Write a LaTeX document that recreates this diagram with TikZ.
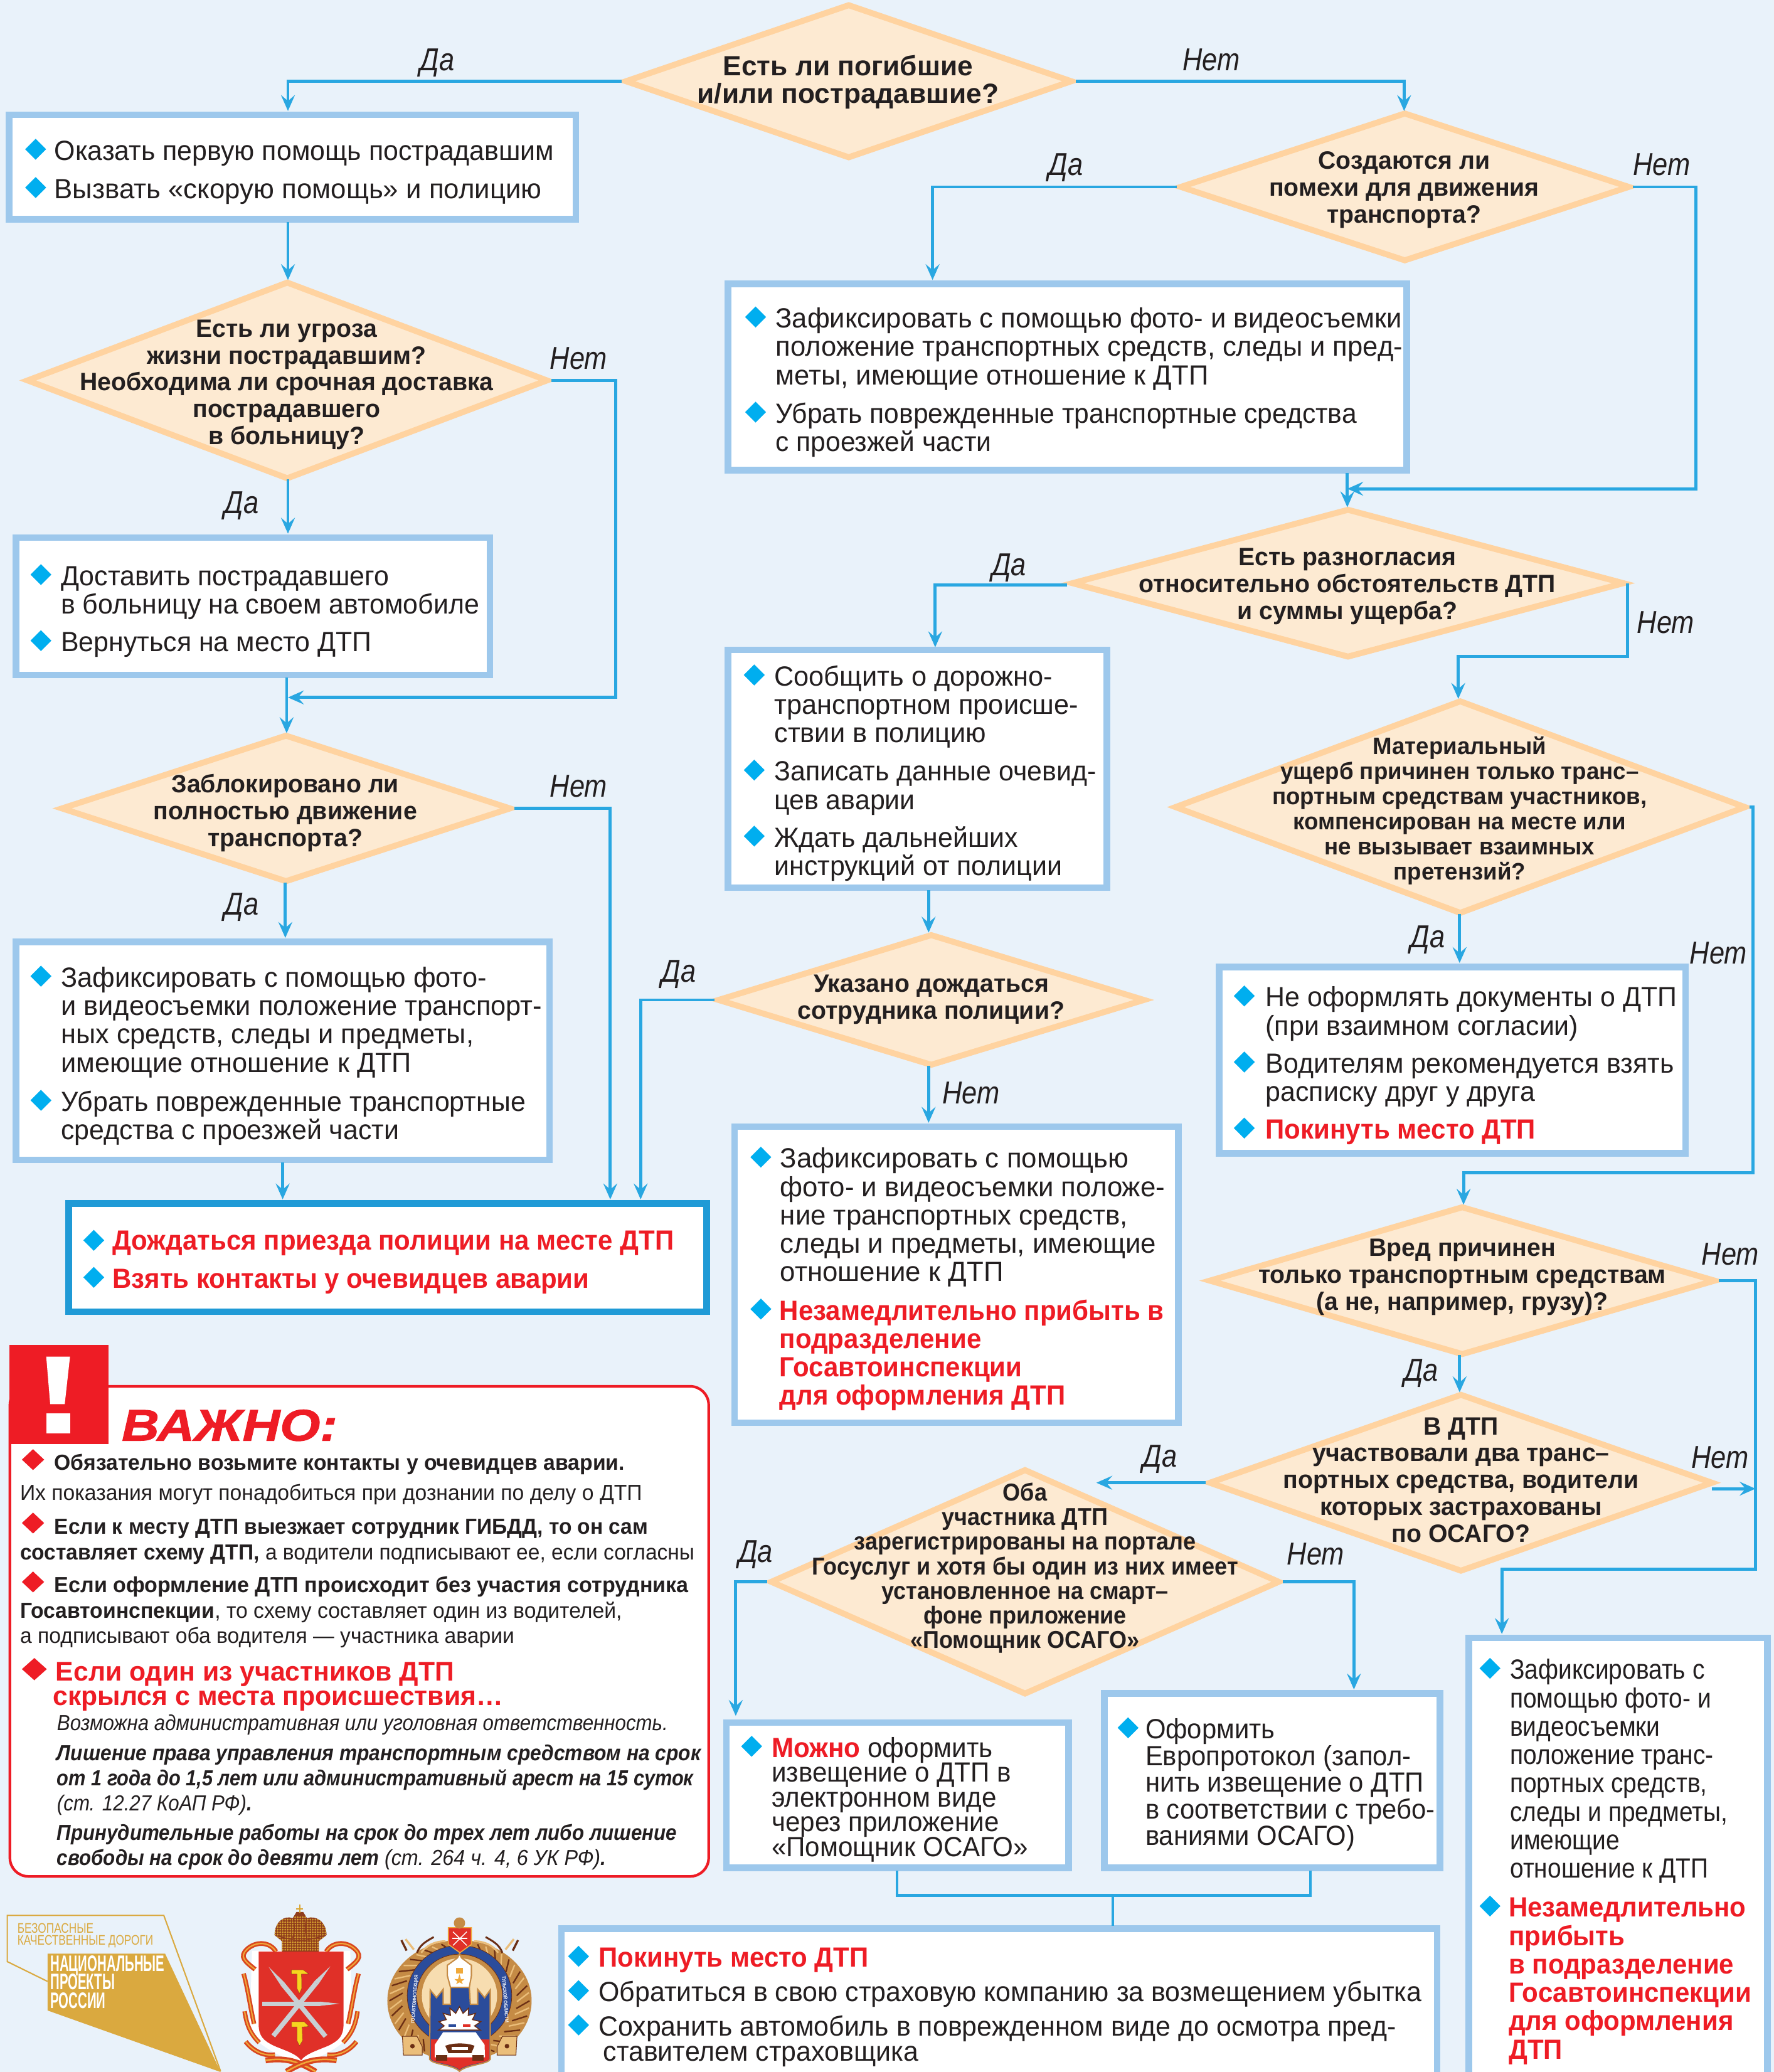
\documentclass[tikz,border=0pt]{standalone}
\usepackage{fontspec}
\setmainfont{Liberation Sans}
\usetikzlibrary{shapes.geometric,arrows.meta,calc}
\definecolor{bgc}{HTML}{E9F2FA}
\definecolor{bord}{HTML}{9DC8EC}
\definecolor{dfill}{HTML}{FDEAD2}
\definecolor{dbord}{HTML}{FFD3A0}
\definecolor{conn}{HTML}{29A7E1}
\definecolor{bulc}{HTML}{00AEEF}
\definecolor{ink}{HTML}{231F20}
\definecolor{redc}{HTML}{EE1C25}
\definecolor{strong}{HTML}{1F9AD6}
\definecolor{goldc}{HTML}{DAA93F}
\definecolor{armred}{HTML}{E03028}
\definecolor{ribred}{HTML}{D9471F}
\definecolor{ribgold}{HTML}{F0A93A}
\definecolor{crownd}{HTML}{8F3D1C}
\definecolor{crowng}{HTML}{D9A531}
\definecolor{steel}{HTML}{C8CFD4}
\definecolor{hammer}{HTML}{F6D51F}
\definecolor{wreath}{HTML}{C58B45}
\definecolor{wdark}{HTML}{6B2E14}
\definecolor{wlight}{HTML}{EBBE7A}
\definecolor{eblue}{HTML}{2B4C9B}
\definecolor{cream}{HTML}{F7DDB0}
\setlength\lineskiplimit{-100pt}
\newcommand\fs[3]{\fontsize{#1}{#2}\selectfont\addfontfeature{FakeStretch=#3}}
\newcommand\rbf[2]{{\color{redc}\bfseries\addfontfeature{FakeStretch=#1}#2}}
\newcommand\st[2]{{\addfontfeature{FakeStretch=#1}#2}}
\newcommand\rgA{\fs{21}{21.5}{.97}}
\newcommand\rgB{\fs{21}{21.5}{.99}}
\newcommand\bdD{\bfseries\fs{19}{20.3}{.98}}
\newcommand\redA{\bfseries\fs{21}{21.5}{.95}}
\newcounter{tn}
\newcommand\TX[5][]{\stepcounter{tn}\node[tx,font=#4,#1] (t\arabic{tn}) at (#2,{#3-20}) {\rule{0pt}{20pt}#5};}
\newcommand\DT[4]{\stepcounter{tn}\node[dx,font=#3] (t\arabic{tn}) at (#1,{#2-20}) {\rule{0pt}{20pt}#4};}
\newcounter{bn}
\newcommand\BU[2]{\stepcounter{bn}\node[bul] (bu\arabic{bn}) at (#1,#2) {};}
\newcommand\RU[2]{\stepcounter{bn}\node[rul] (bu\arabic{bn}) at (#1,#2) {};}
\newcommand\LB[3]{\stepcounter{tn}\node[lab] (t\arabic{tn}) at (#1,{#2+8.5}) {#3};}
\newcommand\BX[6][boxn]{\node[#1,minimum width={#5-#3-4},minimum height={#6-#4-4}] (#2) at ({(#3+#5)/2},{(#4+#6)/2}) {};}
\newcommand\DI[5]{\node[dia,minimum width={#3-#2-6},minimum height={#5-#4}] (#1) at ({(#2+#3)/2},{(#4+#5)/2}) {};}
\newcommand\tulaside{%
 \draw[ribred,line width=3.6pt] (210,245) .. controls (180,195) and (110,195) .. (70,235) .. controls (35,270) and (60,290) .. (110,330);
 \draw[ribgold,line width=1pt] (210,245) .. controls (180,195) and (110,195) .. (70,235) .. controls (35,270) and (60,290) .. (110,330);
 \draw[ribred,line width=3.4pt] (55,350) .. controls (75,420) and (85,500) .. (105,590);
 \draw[ribgold,line width=1pt] (55,350) .. controls (75,420) and (85,500) .. (105,590);
 \draw[ribred,line width=3.4pt] (60,530) .. controls (70,600) and (90,640) .. (130,680);
 \draw[ribgold,line width=1pt] (60,530) .. controls (70,600) and (90,640) .. (130,680);
 \draw[ribred,line width=3.6pt] (65,675) .. controls (100,720) and (150,745) .. (205,738);
 \draw[ribgold,line width=1pt] (65,675) .. controls (100,720) and (150,745) .. (205,738);
 \draw[ribred,line width=4.4pt] (160,765) .. controls (250,750) and (320,770) .. (400,819);
 \draw[ribgold,line width=1.2pt] (160,765) .. controls (250,750) and (320,770) .. (400,819);
}
\newcommand\emblemside{%
 \fill[wlight,draw=wdark,line width=.5pt] (95,590) -- (165,590) -- (190,640) -- (190,680) -- (100,680) -- cycle;
 \fill[wdark] (143,637) circle [radius=11];
 \draw[wdark,line width=1.6pt] (90,130) -- (115,180);
 \draw[wlight,line width=1.6pt] (110,125) -- (150,175);
 \draw[wdark,line width=1.4pt] (245,115) .. controls (210,135) and (180,150) .. (165,190);
 \draw[wlight,line width=1.4pt] (300,135) .. controls (250,135) and (210,155) .. (185,190);
}
\tikzset{
 boxn/.style={draw=bord,fill=white,line width=5pt,rectangle,inner sep=0pt},
 boxs/.style={draw=strong,fill=white,line width=5pt,rectangle,inner sep=0pt},
 dia/.style={diamond,draw=dbord,fill=dfill,line width=4.5pt,inner sep=0pt,aspect=1,line join=miter,miter limit=20},
 bul/.style={diamond,fill=bulc,inner sep=0pt,minimum width=16pt,minimum height=16pt},
 rul/.style={diamond,fill=redc,inner sep=0pt,minimum width=17pt,minimum height=16pt},
 tx/.style={anchor=north west,inner sep=0pt,align=left,text=ink},
 dx/.style={anchor=north,inner sep=0pt,align=center,text=ink},
 lab/.style={anchor=base,inner sep=0pt,text=ink,font=\itshape\fs{24}{24}{.86}},
 ar/.style={draw=conn,line width=2.3pt,-{Stealth[length=12pt,width=10.5pt,inset=4.5pt]}},
 ln/.style={draw=conn,line width=2.3pt},
 ringtx/.style={inner sep=0pt,text=white,font=\bfseries\fs{3.7}{4}{.9}},
}
\begin{document}
\begin{tikzpicture}[x=1pt,y=-1pt]
\useasboundingbox (0,0) rectangle (1343,1568.6);
\fill[bgc] (0,0) rectangle (1343,1568.6);
% diamonds
\DI{d1}{470}{815}{3}{120}
\DI{d2}{890}{1237}{85}{198}
\DI{d3}{17}{418}{213}{363}
\DI{d4}{43}{390}{556}{668}
\DI{d5}{808}{1233}{385}{498}
\DI{d6}{886}{1325}{530}{692}
\DI{d7}{540}{870}{707}{807}
\DI{d8}{912}{1302}{913}{1026}
\DI{d9}{912}{1300}{1055}{1190}
\DI{d10}{580}{972}{1112}{1283}
% boxes
\BX{b1}{5}{85}{438}{168}
\BX{b2}{10}{405}{373}{513}
\BX{b3}{10}{711}{418}{880}
\BX[boxs]{b4}{50}{909}{537}{995}
\BX{b5}{549}{213}{1067}{358}
\BX{b6}{549}{490}{840}{674}
\BX{b7}{554}{851}{894}{1079}
\BX{b8}{921}{730}{1278}{875}
\BX{b9}{548}{1302}{811}{1416}
\BX{b10}{834}{1280}{1092}{1416}
\BX{b11}{423}{1458}{1090}{1600}
\BX{b12}{1110}{1238}{1340}{1600}
% connector ends
\coordinate (c1) at (218,84);
\coordinate (c2) at (1063,84);
\coordinate (c3a) at (218,168);
\coordinate (c3b) at (218,212);
\coordinate (k4) at (466,528);
\coordinate (c4) at (218,528);
\coordinate (c5a) at (218,363);
\coordinate (c5b) at (218,404);
\coordinate (c6a) at (217,513);
\coordinate (c6b) at (217,555);
\coordinate (c7) at (462,908);
\coordinate (c8a) at (216,668);
\coordinate (c8b) at (216,710);
\coordinate (c9a) at (214,880);
\coordinate (c9b) at (214,908);
\coordinate (c10) at (485,908);
\coordinate (c11) at (706,212);
\coordinate (k12) at (1284,370);
\coordinate (c12) at (1020,370);
\coordinate (c13a) at (1020,358);
\coordinate (c13b) at (1020,384);
\coordinate (s14) at (808,443);
\coordinate (c14) at (708,490);
\coordinate (k15) at (1104,497);
\coordinate (c15) at (1104,529);
\coordinate (c16a) at (703,674);
\coordinate (c16b) at (703,706);
\coordinate (c17a) at (703,807);
\coordinate (c17b) at (703,850);
\coordinate (c18a) at (1105,692);
\coordinate (c18b) at (1105,729);
\coordinate (k19a) at (1327,888);
\coordinate (k19b) at (1108,888);
\coordinate (c19) at (1108,912);
\coordinate (c20a) at (1105,1026);
\coordinate (c20b) at (1105,1054);
\coordinate (k21a) at (1329,1188);
\coordinate (k21b) at (1137,1188);
\coordinate (c21) at (1137,1237);
\coordinate (c22a) at (1296,1127);
\coordinate (c22b) at (1329,1127);
\coordinate (c23) at (830,1122.5);
\coordinate (c24) at (557,1299);
\coordinate (c25) at (1025,1279);
\coordinate (k26a) at (679,1434.8);
\coordinate (k26b) at (992,1434.8);
\coordinate (k26c) at (842.5,1434.8);
\coordinate (c26a) at (679,1416);
\coordinate (c26b) at (992,1416);
\coordinate (c26c) at (842.5,1458);
% connectors
\draw[ar] (d1.west) -| (c1);
\draw[ar] (d1.east) -| (c2);
\draw[ar] (c3a) -- (c3b);
\draw[ar] (d3.east) -| (k4) -- (c4);
\draw[ar] (c5a) -- (c5b);
\draw[ar] (c6a) -- (c6b);
\draw[ar] (d4.east) -| (c7);
\draw[ar] (c8a) -- (c8b);
\draw[ar] (c9a) -- (c9b);
\draw[ar] (d7.west) -| (c10);
\draw[ar] (d2.west) -| (c11);
\draw[ar] (d2.east) -| (k12) -- (c12);
\draw[ar] (c13a) -- (c13b);
\draw[ar] (s14) -| (c14);
\draw[ar] (d5.east) |- (k15) -- (c15);
\draw[ar] (c16a) -- (c16b);
\draw[ar] (c17a) -- (c17b);
\draw[ar] (c18a) -- (c18b);
\draw[ar] (d6.east) -| (k19a) -- (k19b) -- (c19);
\draw[ar] (c20a) -- (c20b);
\draw[ar] (d8.east) -| (k21a) -- (k21b) -- (c21);
\draw[ar] (c22a) -- (c22b);
\draw[ar] (d9.west) -- (c23);
\draw[ar] (d10.west) -| (c24);
\draw[ar] (d10.east) -| (c25);
\draw[ln,line width=1.7pt] (c26a) -- (k26a);
\draw[ln,line width=1.7pt] (c26b) -- (k26b);
\draw[ln,line width=2.6pt] ([xshift=-.85pt]k26a) -- ([xshift=.85pt]k26b);
\draw[ln,line width=1.5pt] (k26c) -- (c26c);
% labels
\LB{331}{45}{Да}\LB{917}{45}{Нет}\LB{807}{124}{Да}\LB{1258}{124}{Нет}
\LB{438}{271}{Нет}\LB{183}{380}{Да}\LB{764}{427}{Да}\LB{1261}{471}{Нет}
\LB{438}{595}{Нет}\LB{183}{684}{Да}\LB{514}{735}{Да}\LB{1081}{709}{Да}
\LB{1301}{721}{Нет}\LB{735}{827}{Нет}\LB{1310}{949}{Нет}\LB{1076}{1037}{Да}
\LB{878}{1102}{Да}\LB{1302}{1103}{Нет}\LB{572}{1174}{Да}\LB{996}{1176}{Нет}
% diamond texts
\DT{642}{57}{\bfseries\fs{21}{21}{1.0}}{Есть ли погибшие\\и/или пострадавшие?}
\DT{1063}{128}{\bdD}{Создаются ли\\помехи для движения\\транспорта?}
\DT{217}{255}{\bdD}{Есть ли угроза\\жизни пострадавшим?\\Необходима ли срочная доставка\\пострадавшего\\в больницу?}
\DT{216}{600}{\bdD}{Заблокировано ли\\полностью движение\\транспорта?}
\DT{1020}{428}{\bdD}{Есть разногласия\\относительно обстоятельств ДТП\\и суммы ущерба?}
\DT{1105}{571}{\bfseries\fs{18}{19}{.967}}{Материальный\\ущерб причинен только транс–\\портным средствам участников,\\компенсирован на месте или\\не вызывает взаимных\\претензий?}
\DT{705}{751}{\bdD}{Указано дождаться\\сотрудника полиции?}
\DT{1107}{951}{\bdD}{Вред причинен\\только транспортным средствам\\(а не, например, грузу)?}
\DT{1106}{1086}{\bdD}{В ДТП\\участвовали два транс–\\портных средства, водители\\которых застрахованы\\по ОСАГО?}
\DT{776}{1136}{\bfseries\fs{18.5}{18.6}{.925}}{Оба\\участника ДТП\\зарегистрированы на портале\\Госуслуг и хотя бы один из них имеет\\установленное на смарт–\\фоне приложение\\«Помощник ОСАГО»}
% box texts
\BU{27}{113}\BU{27}{142}
\TX{41}{121}{\rgA}{Оказать первую помощь пострадавшим}
\TX{41}{150}{\rgB}{Вызвать «скорую помощь» и полицию}
\BU{31}{435}\BU{31}{485}
\TX{46}{443}{\rgA}{Доставить пострадавшего\\в больницу на своем автомобиле}
\TX{46}{493}{\rgA}{Вернуться на место ДТП}
\BU{31}{739}\BU{31}{833}
\TX{46}{747}{\fs{21}{21.5}{.98}}{Зафиксировать с помощью фото-\\и видеосъемки положение транспорт-\\ных средств, следы и предметы,\\имеющие отношение к ДТП}
\TX{46}{841}{\rgA}{Убрать поврежденные транспортные\\средства с проезжей части}
\BU{71}{939}\BU{71}{967}
\TX[text=redc]{85}{946}{\redA}{Дождаться приезда полиции на месте ДТП}
\TX[text=redc]{85}{975}{\redA}{Взять контакты у очевидцев аварии}
\BU{572}{240}\BU{572}{312}
\TX{587}{248}{\fs{21}{21.5}{.985}}{Зафиксировать с помощью фото- и видеосъемки\\положение транспортных средств, следы и пред-\\меты, имеющие отношение к ДТП}
\TX{587}{320}{\fs{21}{21.5}{.963}}{Убрать поврежденные транспортные средства\\с проезжей части}
\BU{571}{511}\BU{571}{583}\BU{571}{633}
\TX{586}{519}{\fs{21}{21.5}{.98}}{Сообщить о дорожно-\\транспортном происше-\\ствии в полицию}
\TX{586}{591}{\rgA}{Записать данные очевид-\\цев аварии}
\TX{586}{641}{\rgA}{Ждать дальнейших\\инструкций от полиции}
\BU{576}{876}\BU{576}{991}
\TX{590.5}{884}{\rgB}{Зафиксировать с помощью\\фото- и видеосъемки положе-\\ние транспортных средств,\\следы и предметы, имеющие\\отношение к ДТП}
\TX[text=redc]{590}{999}{\redA}{Незамедлительно прибыть в\\подразделение\\Госавтоинспекции\\для оформления ДТП}
\BU{942}{754}\BU{942}{804}\BU{942}{854}
\TX{958}{762}{\rgA}{Не оформлять документы о ДТП\\(при взаимном согласии)}
\TX{958}{812}{\rgA}{Водителям рекомендуется взять\\расписку друг у друга}
\TX[text=redc]{958}{862}{\redA}{Покинуть место ДТП}
\BU{569}{1322}\BU{854}{1308}
\TX{584}{1330}{\fs{21}{18.8}{.954}}{\rbf{.954}{Можно} оформить\\извещение о ДТП в\\электронном виде\\через приложение\\«Помощник ОСАГО»}
\TX{867}{1316}{\fs{21}{20.2}{.945}}{Оформить\\Европротокол (запол-\\нить извещение о ДТП\\в соответствии с требо-\\ваниями ОСАГО)}
\BU{438}{1481}\BU{438}{1507}\BU{438}{1533}
\TX[text=redc]{453}{1489}{\redA}{Покинуть место ДТП}
\TX{453}{1515}{\rgA}{Обратиться в свою страховую компанию за возмещением убытка}
\TX{453}{1541}{\fs{21}{19}{.97}}{Сохранить автомобиль в поврежденном виде до осмотра пред-\\ \,ставителем страховщика}
\BU{1128}{1263}\BU{1128}{1443}
\TX{1143}{1271}{\fs{21}{21.5}{.88}}{Зафиксировать с\\помощью фото- и\\видеосъемки\\положение транс-\\портных средств,\\следы и предметы,\\имеющие\\отношение к ДТП}
\TX[text=redc]{1142}{1451}{\redA}{Незамедлительно\\прибыть\\в подразделение\\Госавтоинспекции\\для оформления\\ДТП}
% important panel
\node[draw=redc,fill=white,line width=2pt,rectangle,rounded corners=14pt,inner sep=0pt,minimum width=529pt,minimum height=371pt] (imp) at (272,1235) {};
\fill[redc] (7,1018) rectangle (82,1093);
\fill[white] (35,1027) -- (53,1027) -- (49,1063) -- (38,1063) -- cycle;
\fill[white] (35,1070) rectangle (53,1085);
\TX[text=redc]{92}{1087}{\bfseries\itshape\fs{33.5}{34}{1.17}\addfontfeature{FakeBold=1.5}}{ВАЖНО:}
\RU{25}{1105}\RU{25}{1153}\RU{25}{1197.6}
\node[rul,minimum width=19pt,minimum height=17pt] (bigr) at (26,1263.6) {};
\newcommand\bsA{\bfseries\fs{16.5}{19.1}{.97}}
\newcommand\rsA{\fs{16.5}{19.1}{.97}}
\TX{41}{1112.8}{\bsA}{Обязательно возьмите контакты у очевидцев аварии.}
\TX{15}{1135.4}{\rsA}{Их показания могут понадобиться при дознании по делу о ДТП}
\TX{41}{1161.3}{\bfseries\fs{16.5}{19.1}{.965}}{Если к месту ДТП выезжает сотрудник ГИБДД, то он сам}
\TX{15}{1180.4}{\fs{16.5}{19.1}{.965}}{{\bfseries\addfontfeature{FakeStretch=.965}составляет схему ДТП,} а водители подписывают ее, если согласны}
\TX{41}{1205.5}{\bfseries\fs{16.5}{19.1}{.98}}{Если оформление ДТП происходит без участия сотрудника}
\TX{15}{1224.6}{\rsA}{{\bfseries\addfontfeature{FakeStretch=.97}Госавтоинспекции}, то схему составляет один из водителей,\\а подписывают оба водителя — участника аварии}
\TX[text=redc]{42}{1272.5}{\bfseries\fs{20.5}{18.3}{.99}}{Если один из участников ДТП\\\hspace*{-2pt}скрылся с места происшествия…}
\TX{43}{1310}{\itshape\fs{16.5}{19}{.9}}{Возможна административная или уголовная ответственность.}
\TX{43}{1332.5}{\bfseries\itshape\fs{16.5}{19.1}{.885}}{\st{.914}{Лишение права управления транспортным средством на срок}\\от 1 года до 1,5 лет или административный арест на 15 суток\\{\mdseries\addfontfeature{FakeStretch=.9}(ст. 12.27 КоАП РФ)}.}
\TX{43}{1393}{\bfseries\itshape\fs{16.5}{19}{.9}}{Принудительные работы на срок до трех лет либо лишение\\свободы на срок до девяти лет {\mdseries\addfontfeature{FakeStretch=.93}(ст. 264 ч. 4, 6 УК РФ)}.}
% national projects logo
\draw[goldc,line width=1pt] (36,1500) -- (5.5,1485) -- (5.5,1450) -- (124,1450) -- (167,1568);
\fill[goldc] (36,1479) -- (125,1479) -- (167,1568.6) -- (36,1522) -- cycle;
\TX[text=goldc]{13}{1463}{\fs{10.5}{9.2}{.78}}{БЕЗОПАСНЫЕ\\КАЧЕСТВЕННЫЕ ДОРОГИ}
\TX[text=white]{38}{1492}{\bfseries\fs{17}{14}{.57}}{НАЦИОНАЛЬНЫЕ\\ПРОЕКТЫ\\РОССИИ}
% Tula coat of arms (coordinates of a 3x crop)
\begin{scope}[shift={(175.7,1438.7)},x=.1583pt,y=-.1583pt]
 \fill[white] (95,240) -- (565,240) -- (575,600) .. controls (565,680) and (480,720) .. (330,790) .. controls (180,720) and (95,680) .. (85,600) -- cycle;
 \tulaside
 \begin{scope}[shift={(660,0)},xscale=-1]\tulaside\end{scope}
 \fill[armred] (127,245) -- (533,245) -- (533,590) .. controls (533,650) and (510,670) .. (460,695) .. controls (400,720) and (350,735) .. (330,765) .. controls (310,735) and (260,720) .. (200,695) .. controls (150,670) and (127,650) .. (127,590) -- cycle;
 \fill[steel] (175,318) -- (250,392) -- (232,405) -- cycle;
 \draw[steel,line width=3.6pt] (240,398) -- (447,650);
 \fill[steel] (470,315) -- (412,402) -- (392,388) -- cycle;
 \draw[steel,line width=3.6pt] (402,395) -- (197,648);
 \draw[steel,line width=3.4pt] (145,494) -- (422,494);
 \fill[steel] (422,484) -- (515,494) -- (422,504) -- cycle;
 \fill[hammer,draw=crownd,line width=.2pt] (283,332) -- (340,332) -- (367,352) -- (332,352) -- (333,420) -- (322,445) -- (310,420) -- (310,352) -- (283,352) -- cycle;
 \fill[hammer,draw=crownd,line width=.2pt] (285,580) -- (345,580) -- (368,603) -- (335,605) -- (337,670) -- (323,695) -- (310,670) -- (310,605) -- (285,605) -- cycle;
 \begin{scope}
  \fill[crownd] (203,165) .. controls (205,100) and (250,70) .. (290,85) -- (308,55) -- (340,55) -- (358,85) .. controls (400,70) and (450,100) .. (452,165) -- (415,195) -- (415,245) -- (238,245) -- (238,195) -- cycle;
  \clip (203,165) .. controls (205,100) and (250,70) .. (290,85) -- (308,55) -- (340,55) -- (358,85) .. controls (400,70) and (450,100) .. (452,165) -- (415,195) -- (415,245) -- (238,245) -- (238,195) -- cycle;
  \foreach \y in {80,92,...,236} \foreach \x in {206,218,...,450} \fill[crowng] (\x,\y) circle [radius=4.6];
  \draw[crownd,line width=.7pt] (292,85) .. controls (300,120) and (300,150) .. (290,180);
  \draw[crownd,line width=.7pt] (356,85) .. controls (348,120) and (348,150) .. (358,180);
  \draw[crownd,line width=.7pt] (205,168) -- (300,190) -- (352,190) -- (450,168);
 \end{scope}
 \draw[crowng,line width=1pt] (323,20) -- (323,58);
 \draw[crowng,line width=1pt] (307,40) -- (339,40);
\end{scope}
% traffic police emblem (coordinates of a 3x crop)
\begin{scope}[shift={(289.6,1448.2)},x=.1583pt,y=-.1583pt]
 \fill[wreath] (368,420) ellipse [x radius=345,y radius=290];
 \foreach \a in {0,15,...,345} {
  \draw[wdark,line width=1.1pt] ({368+335*cos(\a)},{420+280*sin(\a)}) -- ({368+275*cos(\a+9)},{420+235*sin(\a+9)});
  \draw[wlight,line width=1.1pt] ({368+335*cos(\a+7)},{420+280*sin(\a+7)}) -- ({368+275*cos(\a+16)},{420+235*sin(\a+16)});
 }
 \emblemside
 \begin{scope}[shift={(738,0)},xscale=-1]\emblemside\end{scope}
 \fill[eblue,draw=wdark,line width=.4pt] (368,395) ellipse [x radius=250,y radius=240];
 \fill[wreath,draw=wdark,line width=.4pt] (368,395) ellipse [x radius=205,y radius=198];
 \fill[cream] (368,395) ellipse [x radius=180,y radius=178];
 \fill[eblue,draw=wreath,line width=1pt] (228,368) -- (258,405) -- (290,365) -- (290,437) -- (325,437) -- (325,356) -- (415,356) -- (420,437) -- (455,437) -- (455,365) -- (488,405) -- (515,368) -- (515,700) .. controls (500,725) and (400,725) .. (368,757) .. controls (336,725) and (240,725) .. (225,700) -- cycle;
 \fill[armred] (232,605) -- (511,605) -- (511,698) .. controls (498,720) and (400,720) .. (368,750) .. controls (336,720) and (245,720) .. (232,698) -- cycle;
 \fill[white,draw=wreath,line width=1pt] (325,356) -- (310,300) -- (310,250) -- (358,215) -- (368,195) -- (378,215) -- (425,250) -- (425,300) -- (415,356) -- cycle;
 \fill[ribgold] (352,262) rectangle (385,290);
 \fill[ribgold] (368,293) -- (375,316) -- (392,316) -- (378,328) -- (384,340) -- (368,332) -- (352,340) -- (358,328) -- (344,316) -- (361,316) -- cycle;
 \fill[white,draw=wdark,line width=.7pt] (368,448) -- (385,480) -- (412,455) -- (410,490) -- (445,480) -- (430,510) -- (470,520) -- (440,540) -- (468,560) -- (268,560) -- (295,540) -- (270,520) -- (305,510) -- (290,480) -- (325,490) -- (322,455) -- (350,480) -- cycle;
 \fill[eblue] (315,533) rectangle (352,544);
 \fill[armred] (385,533) rectangle (422,544);
 \fill[white] (290,570) -- (445,570) -- (488,630) -- (490,690) -- (250,690) -- (250,630) -- cycle;
 \fill[wdark] (300,635) .. controls (340,620) and (400,620) .. (440,635) -- (425,670) -- (315,670) -- cycle;
 \fill[white] (330,640) rectangle (410,655);
 \fill[wdark] (255,680) rectangle (310,705);
 \fill[wdark] (430,680) rectangle (485,705);
 \fill[armred,draw=ribgold,line width=.8pt] (315,70) -- (425,70) -- (425,150) -- (370,190) -- (315,150) -- cycle;
 \draw[white,line width=.7pt] (337,90) -- (403,155);
 \draw[white,line width=.7pt] (403,90) -- (337,155);
 \draw[white,line width=.7pt] (335,122) -- (405,122);
 \fill[wreath] (368,48) circle [radius=27];
 \node[ringtx,rotate=86] (etxl) at (155,412) {ГОСАВТОИНСПЕКЦИЯ};
 \node[ringtx,rotate=-86] (etxr) at (590,412) {ТУЛЬСКОЙ ОБЛАСТИ};
\end{scope}
\end{tikzpicture}
\end{document}
